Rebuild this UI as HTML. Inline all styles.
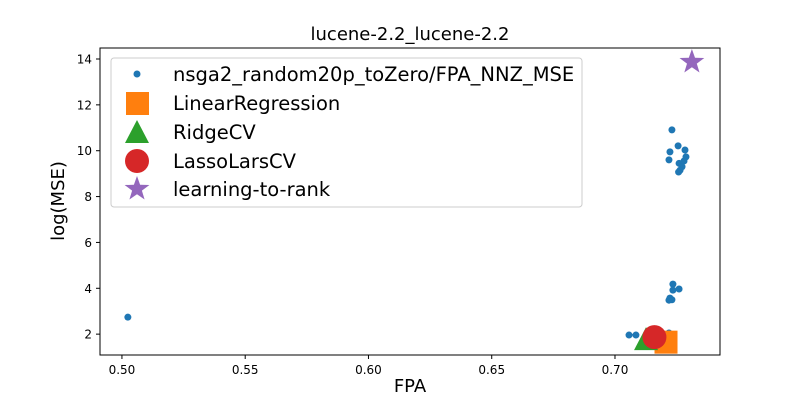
<!DOCTYPE html>
<html><head><meta charset="utf-8"><style>
body{margin:0;background:#fff;}
svg text{font-family:"DejaVu Sans","Liberation Sans",sans-serif;}
</style></head><body>
<svg id="chart" width="800" height="400" xmlns="http://www.w3.org/2000/svg">
<rect width="800" height="400" fill="#fff"/>
<text x="410" y="40" font-size="18" text-anchor="middle">lucene-2.2_lucene-2.2</text>
<g id="plot"></g>
<rect x="100" y="48" width="620" height="307" fill="none" stroke="#000" stroke-width="1"/>
<g id="xt"></g>
<g id="yt"></g>
<text x="410" y="392" font-size="18" text-anchor="middle">FPA</text>
<text x="64" y="201" font-size="18" text-anchor="middle" transform="rotate(-90 64 201)">log(MSE)</text>
<g>
<rect x="111" y="58" width="471" height="149" rx="3" fill="#fff" fill-opacity="0.8" stroke="#ccc"/>
<circle cx="137" cy="74" r="3.5" fill="#1f77b4"/>
<text x="173" y="81" font-size="19.5">nsga2_random20p_toZero/FPA_NNZ_MSE</text>
<rect x="126" y="92" width="23" height="23" fill="#ff7f0e"/>
<text x="173" y="110" font-size="19.5">LinearRegression</text>
<polygon points="137,120 149,143 125,143" fill="#2ca02c"/>
<text x="173" y="139" font-size="19.5">RidgeCV</text>
<circle cx="137" cy="161" r="12" fill="#d62728"/>
<text x="173" y="168" font-size="19.5">LassoLarsCV</text>
<polygon id="lstar" fill="#9467bd"/>
<text x="173" y="196" font-size="19.5">learning-to-rank</text>
</g>
</svg>
<script>
const nsgaX=[0.5024,0.7231,0.7256,0.7284,0.7223,0.7219,0.726,0.7288,0.728,0.7272,0.7264,0.7258,0.7235,0.7235,0.726,0.7223,0.7231,0.7219,0.7057,0.7085,0.7126,0.7219,0.7231];
const nsgaY=[2.74,10.91,10.21,10.03,9.95,9.60,9.45,9.73,9.55,9.30,9.15,9.07,4.18,3.92,3.97,3.57,3.50,3.48,1.96,1.96,1.96,2.05,1.96];
const linX=[0.7207], linY=[1.65];
const ridgeX=[0.7126], ridgeY=[1.74];
const lassoX=[0.716], lassoY=[1.87];
const ltrX=[0.7312], ltrY=[13.87];
const xTicks=[0.50,0.55,0.60,0.65,0.70];
const yTicks=[2,4,6,8,10,12,14];
const NS="http://www.w3.org/2000/svg";
const X0=0.4911,X1=0.7426,Y0=1.09,Y1=14.48,L=100,R=720,T=48,B=355;
const sx=v=>L+(v-X0)/(X1-X0)*(R-L);
const sy=v=>B-(v-Y0)/(Y1-Y0)*(B-T);
function mk(t,a,p){const e=document.createElementNS(NS,t);for(const k in a)e.setAttribute(k,a[k]);p.appendChild(e);return e;}
function star(cx,cy,r){let p=[];for(let i=0;i<10;i++){const rr=i%2?r*0.4:r;const a=-Math.PI/2+i*Math.PI/5;p.push((cx+rr*Math.cos(a)).toFixed(1)+","+(cy+rr*Math.sin(a)).toFixed(1));}return p.join(" ");}
document.getElementById('lstar').setAttribute('points',star(137,189,13));
const plot=document.getElementById('plot');
nsgaX.forEach((x,i)=>{const c=mk('circle',{cx:sx(x),cy:sy(nsgaY[i]),r:3.5,fill:'#1f77b4'},plot);

});
linX.forEach((x,i)=>{const c=mk('rect',{x:sx(x)-11.5,y:sy(linY[i])-11.5,width:23,height:23,fill:'#ff7f0e'},plot);

});
ridgeX.forEach((x,i)=>{const cx=sx(x),cy=sy(ridgeY[i]);const c=mk('polygon',{points:`${cx},${cy-13} ${cx+12},${cy+10} ${cx-12},${cy+10}`,fill:'#2ca02c'},plot);

});
lassoX.forEach((x,i)=>{const c=mk('circle',{cx:sx(x),cy:sy(lassoY[i]),r:12,fill:'#d62728'},plot);

});
ltrX.forEach((x,i)=>{const c=mk('polygon',{points:star(sx(x),sy(ltrY[i]),13),fill:'#9467bd'},plot);

});
const xt=document.getElementById('xt');
xTicks.forEach(v=>{const x=sx(v);mk('line',{x1:x,x2:x,y1:B,y2:B+4,stroke:'#000'},xt);
const t=mk('text',{x:x,y:B+19,'font-size':12,'text-anchor':'middle'},xt);t.textContent=v.toFixed(2);

});
const yt=document.getElementById('yt');
yTicks.forEach(v=>{const y=sy(v);mk('line',{x1:L-4,x2:L,y1:y,y2:y,stroke:'#000'},yt);
const t=mk('text',{x:L-8,y:y+4.5,'font-size':12,'text-anchor':'end'},yt);t.textContent=v;

});
</script>
</body></html>
